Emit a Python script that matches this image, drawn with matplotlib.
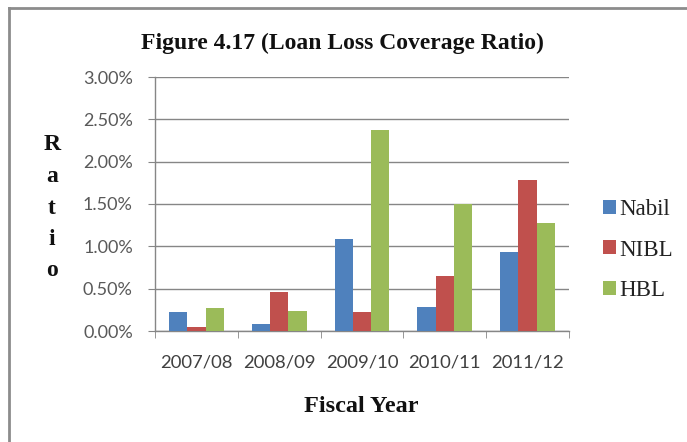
import matplotlib
matplotlib.use("Agg")
import matplotlib.pyplot as plt
import numpy as np
from matplotlib.patches import Patch
from matplotlib.lines import Line2D

years = ["2007/08", "2008/09", "2009/10", "2010/11", "2011/12"]
nabil = [0.225, 0.08, 1.09, 0.28, 0.93]
nibl = [0.05, 0.46, 0.225, 0.65, 1.78]
hbl = [0.27, 0.235, 2.375, 1.50, 1.27]
series = [("Nabil", nabil, "#4F81BD"), ("NIBL", nibl, "#C0504D"), ("HBL", hbl, "#9BBB59")]
yticks = [0.0, 0.5, 1.0, 1.5, 2.0, 2.5, 3.0]

serif = "Liberation Serif"
sans = "Lato"

fig = plt.figure(figsize=(6.87, 4.42), dpi=100)
ax = fig.add_axes([155 / 687, 1 - 331 / 442, 414 / 687, 254 / 442])

x = np.arange(len(years))
w = 0.22
for i, (name, vals, col) in enumerate(series):
    ax.bar(x + (i - 1) * w, vals, width=w, color=col, zorder=3, label=name)

ax.set_xlim(-0.5, len(years) - 0.5)
ax.set_ylim(0, 3.0)
ax.set_yticks(yticks)
ax.set_yticklabels([f"{v:.2f}%" for v in yticks], fontsize=13, color="#595959", family=sans)
ax.set_xticks(x)
ax.set_xticklabels(years, fontsize=13.3, color="#404040", family=sans)
ax.set_xticks(np.arange(len(years) + 1) - 0.5, minor=True)
ax.tick_params(axis="x", which="major", length=0, pad=17)
ax.tick_params(axis="x", which="minor", length=5, color="#868686", direction="out")
ax.tick_params(axis="y", length=5, color="#868686", direction="out", pad=11)
ax.yaxis.grid(True, color="#868686", linewidth=1.0, zorder=0)
for s in ["top", "right"]:
    ax.spines[s].set_visible(False)
for s in ["left", "bottom"]:
    ax.spines[s].set_color("#868686")
    ax.spines[s].set_linewidth(1.0)

fig.text(342 / 687, 1 - 43 / 442, "Figure 4.17 (Loan Loss Coverage Ratio)", ha="center", va="center",
         fontsize=17, fontweight="bold", family=serif, color="#111111")
fig.text(361 / 687, 1 - 407 / 442, "Fiscal Year", ha="center", va="center",
         fontsize=17.5, fontweight="bold", family=serif, color="#111111")
for k, ch in enumerate("Ratio"):
    fig.text(52 / 687, 1 - (145 + k * 31.5) / 442, ch, ha="center", va="center",
             fontsize=17, fontweight="bold", family=serif, color="#111111")

handles = [Patch(facecolor=c, edgecolor="none") for _, _, c in series]
leg = fig.legend(handles, [n for n, _, _ in series], loc="center left",
                 bbox_to_anchor=(603 / 687, 1 - 250 / 442), frameon=False,
                 prop={"family": serif, "size": 16.5}, handlelength=0.55, handleheight=0.55,
                 handletextpad=0.15, labelspacing=0.85, borderpad=0, borderaxespad=0)
for t in leg.get_texts():
    t.set_color("#222222")

# outer frame of the chart area (left and top edges)
fig.add_artist(Line2D([9 / 687, 9 / 687], [0, 1 - 8 / 442], color="#8c8c8c", linewidth=2))
fig.add_artist(Line2D([9 / 687, 1], [1 - 8 / 442, 1 - 8 / 442], color="#8c8c8c", linewidth=2))

fig.savefig("out.png", dpi=100)
